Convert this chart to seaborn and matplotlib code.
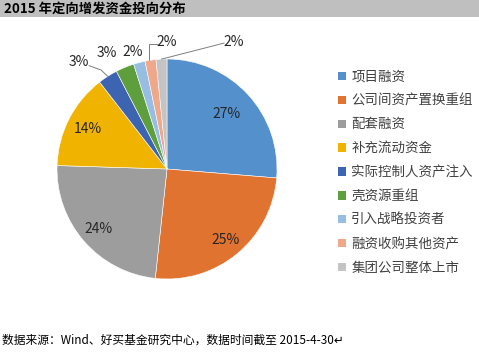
import numpy as np
import matplotlib
matplotlib.use("Agg")
import matplotlib.pyplot as plt
from matplotlib.patches import Rectangle, Patch
import seaborn as sns

# ---- DATA ----
categories = ["项目融资", "公司间资产置换重组", "配套融资", "补充流动资金",
              "实际控制人资产注入", "壳资源重组", "引入战略投资者",
              "融资收购其他资产", "集团公司整体上市"]
shares = [26.3, 25.4, 23.8, 14.0, 2.9, 2.7, 1.7, 1.6, 1.6]
pct_labels = ["27%", "25%", "24%", "14%", "3%", "3%", "2%", "2%", "2%"]
title = "2015 年定向增发资金投向分布"
source = "数据来源：Wind、好买基金研究中心，数据时间截至 2015-4-30↵"

# ---- STYLE ----
sns.set_theme(style="white")
plt.rcParams['font.family'] = ['Noto Sans CJK SC', 'DejaVu Sans']
colors = sns.color_palette(["#5490cc", "#e07330", "#9d9d9d", "#f0b400",
                            "#3d64b0", "#5f9e3c", "#97bde3", "#f0a88a", "#c4c4c4"])

# label placement (radius / explicit offsets in pie units)
inner_r = [0.74, 0.84, 0.83, 0.81]
outer_pos = [(-0.80, 0.97), (-0.545, 1.055), (-0.31, 1.064), (0.0, 1.155), (0.61, 1.155)]
leader = [True, False, False, True, True]

fig = plt.figure(figsize=(4.79, 3.52), dpi=100)

# title band
fig.patches.append(Rectangle((0, 1 - 17 / 352), 1, 17 / 352, transform=fig.transFigure,
                             facecolor="#bfbfbf", edgecolor="none", zorder=0))
fig.text(4 / 479, 1 - 8.5 / 352, title, fontsize=9.6, fontweight="bold",
         va="center", ha="left", color="black")

ax = fig.add_axes([57 / 479, (352 - 279) / 352, 220 / 479, 220 / 352])
wedges, _ = ax.pie(shares, colors=colors, startangle=90, counterclock=False,
                   wedgeprops=dict(edgecolor="white", linewidth=0.4))
ax.set_xlim(-1, 1)
ax.set_ylim(-1, 1)
ax.axis("off")

for i, w in enumerate(wedges):
    mid = np.deg2rad((w.theta1 + w.theta2) / 2)
    if i < 4:
        r = inner_r[i]
        ax.text(r * np.cos(mid), r * np.sin(mid), pct_labels[i], ha="center",
                va="center", fontsize=10, color="#262626")
    else:
        tx, ty = outer_pos[i - 4]
        ex, ey = np.cos(mid), np.sin(mid)
        if leader[i - 4]:
            if tx < 0 and ty < 1.0:
                pts = [(tx + 0.09, ty - 0.03), (tx + 0.2, ty - 0.07), (ex, ey)]
            elif tx > 0.3:
                pts = [(tx - 0.09, ty - 0.01), (ex, ey)]
            else:
                pts = [(tx - 0.09, ty - 0.02), (ex - 0.01, ty - 0.02), (ex - 0.01, ey)]
            xs, ys = zip(*pts)
            ax.plot(xs, ys, color="#7f7f7f", lw=0.7, clip_on=False)
        ax.text(tx, ty, pct_labels[i], ha="center", va="center", fontsize=10,
                color="#262626", clip_on=False)

# legend
handles = [Patch(facecolor=c, edgecolor="none") for c in colors]
leg = fig.legend(handles, categories, loc="upper left",
                 bbox_to_anchor=(333 / 479, 1 - 64 / 352), frameon=False,
                 fontsize=9.7, handlelength=0.55, handleheight=0.55,
                 handletextpad=0.4, labelspacing=0.74, borderaxespad=0)
for t in leg.get_texts():
    t.set_color("#404040")

fig.text(2 / 479, 1 - 340 / 352, source, fontsize=8.5, va="center", ha="left",
         color="black")

fig.savefig("out.png", dpi=100)
